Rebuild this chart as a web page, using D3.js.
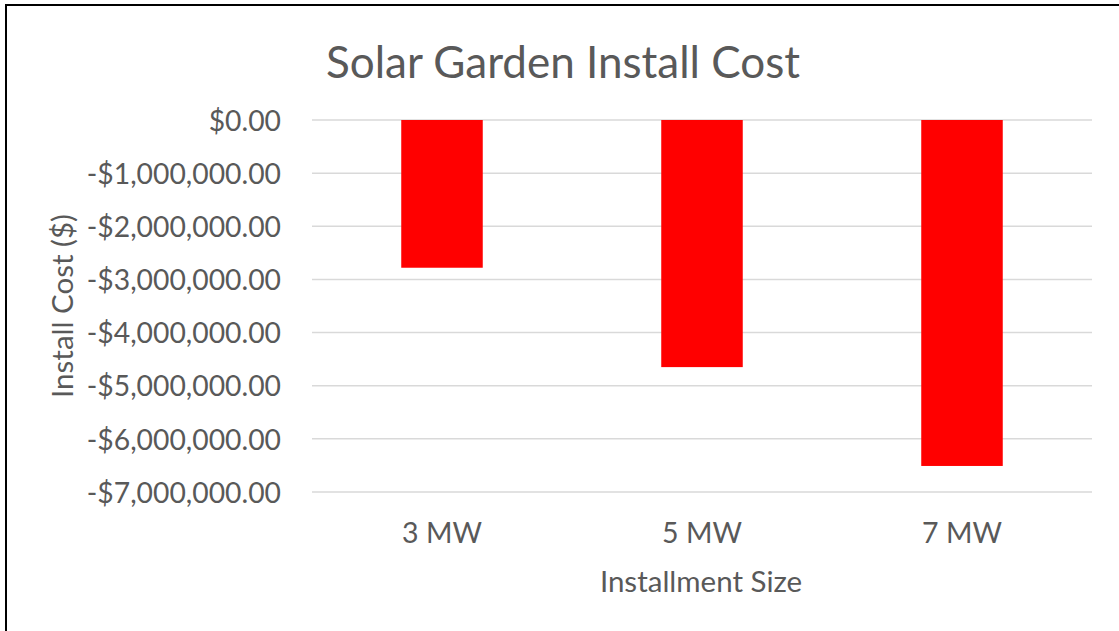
<!DOCTYPE html>
<html>
<head>
<meta charset="utf-8">
<script src="https://cdn.jsdelivr.net/npm/d3@7"></script>
<style>
  html, body { margin: 0; padding: 0; background: #fff; }
  svg { display: block; }
  text { font-family: Lato, "Open Sans", sans-serif; fill: #595959; }
</style>
</head>
<body>
<svg id="chart" width="1119" height="631"></svg>
<script>
const categories = ["3 MW", "5 MW", "7 MW"];
const installCost = [-2780000, -4650000, -6510000];
const yTicks = [0, -1000000, -2000000, -3000000, -4000000, -5000000, -6000000, -7000000];
const titleText = "Solar Garden Install Cost";
const xTitle = "Installment Size";
const yTitle = "Install Cost ($)";

const FONT = "Lato, 'Open Sans', sans-serif";
const svg = d3.select("#chart");
const W = 1119, H = 631;
svg.append("rect").attr("width", W).attr("height", H).attr("fill", "#fff");

// chart border (top & left visible)
svg.append("path").attr("d", `M6,${H} L6,5 L${W},5`).attr("fill", "none")
  .attr("stroke", "#000").attr("stroke-width", 2);

const plot = { left: 312, right: 1092, top: 120, bottom: 492 };

const x = d3.scaleBand().domain(categories).range([plot.left, plot.right])
  .paddingInner(2.19 / 3.19).paddingOuter(2.19 / 3.19 / 2);
const y = d3.scaleLinear().domain([-7000000, 0]).range([plot.bottom, plot.top]);

const fmt = v => (v < 0 ? "-$" : "$") + d3.format(",.2f")(Math.abs(v));

// gridlines
svg.append("g").selectAll("line").data(yTicks).join("line")
  .attr("x1", plot.left).attr("x2", plot.right)
  .attr("y1", d => y(d)).attr("y2", d => y(d))
  .attr("stroke", "#d9d9d9").attr("stroke-width", 1.5);

// y axis labels
const yAxis = d3.axisLeft(y).tickValues(yTicks).tickFormat(fmt).tickSize(0).tickPadding(0);
const gy = svg.append("g").attr("transform", `translate(281,0)`).call(yAxis);
gy.select(".domain").remove();
gy.selectAll("text").attr("font-size", 28.3).attr("fill", "#595959")
  .style("font-family", FONT).attr("dy", "0.36em");

// bars
svg.append("g").selectAll("rect").data(installCost).join("rect")
  .attr("x", (d, i) => x(categories[i]))
  .attr("width", x.bandwidth())
  .attr("y", d => y(0))
  .attr("height", d => y(d) - y(0))
  .attr("fill", "#ff0000");

// x axis labels
const xAxis = d3.axisBottom(x).tickSize(0).tickPadding(0);
const gx = svg.append("g").attr("transform", `translate(0,543)`).call(xAxis);
gx.select(".domain").remove();
gx.selectAll("text").attr("font-size", 28.5).attr("fill", "#595959")
  .style("font-family", FONT).attr("dy", 0).attr("y", 0);

// title
svg.append("text").attr("x", 563).attr("y", 78).attr("text-anchor", "middle")
  .attr("font-size", 44).text(titleText);

// axis titles
svg.append("text").attr("x", 701).attr("y", 592).attr("text-anchor", "middle")
  .attr("font-size", 29.5).text(xTitle);
svg.append("text").attr("transform", `translate(73,306) rotate(-90)`)
  .attr("text-anchor", "middle").attr("font-size", 29.5).text(yTitle);
</script>
</body>
</html>
